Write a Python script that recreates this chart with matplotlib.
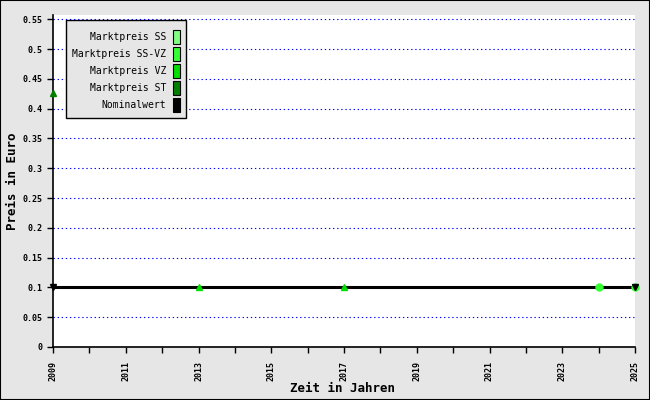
import matplotlib
matplotlib.use("Agg")
import matplotlib.pyplot as plt
from matplotlib.patches import Rectangle

# data
series_names = ["Marktpreis SS", "Marktpreis SS-VZ", "Marktpreis VZ", "Marktpreis ST", "Nominalwert"]
series_colors = ["#80ff80", "#33ff33", "#00dd00", "#008000", "#000000"]

st_years = [2009]
st_prices = [0.427]

vz_years = [2013, 2017]
vz_prices = [0.1, 0.1]

ssvz_years = [2024, 2025]
ssvz_prices = [0.1, 0.1]

nominal_years = [2009, 2025]
nominal_values = [0.1, 0.1]

y_ticks = [0, 0.05, 0.1, 0.15, 0.2, 0.25, 0.3, 0.35, 0.4, 0.45, 0.5, 0.55]
y_labels = ["0", "0.05", "0.1", "0.15", "0.2", "0.25", "0.3", "0.35", "0.4", "0.45", "0.5", "0.55"]
x_major = [2009, 2011, 2013, 2015, 2017, 2019, 2021, 2023, 2025]
x_minor = list(range(2009, 2026))

plt.rcParams['font.family'] = ['DejaVu Sans Mono']

W, H = 650, 400
def fx(px):
    return px / W
def fy(py):
    return 1 - py / H

fig = plt.figure(figsize=(6.5, 4), dpi=100, facecolor="#e6e6e6")
ax = fig.add_axes([53/650, 53/400, 582/650, 332/400])
ax.set_facecolor("white")

ax.set_xlim(2009, 2025)
ax.set_ylim(0, 0.5572)

# grid
for y in y_ticks[1:]:
    ax.axhline(y, color="blue", lw=0.8, ls=(0, (1.2, 2.5)), zorder=1)

# nominal line
ax.plot(nominal_years, nominal_values, color="black", lw=2.2, zorder=3)
ax.plot(ssvz_years, ssvz_prices, ls="none", marker="o", ms=5, color=series_colors[1],
        zorder=4, clip_on=False)
ax.plot(nominal_years, nominal_values, ls="none", marker="v", ms=5, color="black",
        zorder=5, clip_on=False)
ax.plot(vz_years, vz_prices, ls="none", marker="^", ms=5, color=series_colors[2],
        zorder=4, clip_on=False)
ax.plot(st_years, st_prices, ls="none", marker="^", ms=5, color=series_colors[3],
        zorder=4, clip_on=False)

ax.set_yticks(y_ticks)
ax.set_yticklabels(y_labels, fontsize=6, fontweight="bold")
ax.set_xticks(x_major)
ax.set_xticklabels([str(x) for x in x_major], rotation=90, fontsize=6, fontweight="bold")
ax.set_xticks(x_minor, minor=True)
ax.tick_params(axis="both", which="both", direction="out", length=4, width=1, color="black")
ax.tick_params(axis="x", pad=6)

for s in ["top", "right"]:
    ax.spines[s].set_visible(False)
for s in ["left", "bottom"]:
    ax.spines[s].set_linewidth(1.2)

# axis titles at fixed spots
fig.text(fx(13), fy(181), "Preis in Euro", rotation=90, ha="center", va="center",
         fontsize=9, fontweight="bold")
fig.text(fx(343), fy(388), "Zeit in Jahren", ha="center", va="center",
         fontsize=9, fontweight="bold")

# legend box drawn by hand (right aligned labels, swatches on the right)
fig.patches.append(Rectangle((fx(66), fy(118)), fx(186) - fx(66), fy(20) - fy(118),
                             transform=fig.transFigure, facecolor="#e6e6e6",
                             edgecolor="black", lw=1, zorder=10))
row_y = [37, 54, 71, 88, 105]
for name, col, yy in zip(series_names, series_colors, row_y):
    fig.text(fx(166), fy(yy), name, ha="right", va="center", fontsize=7, zorder=11)
    fig.patches.append(Rectangle((fx(173), fy(yy + 7)), fx(180) - fx(173), fy(yy - 7) - fy(yy + 7),
                                 transform=fig.transFigure, facecolor=col,
                                 edgecolor="black", lw=0.8, zorder=11))

# outer frame
fig.patches.append(Rectangle((0, 0), 1, 1, transform=fig.transFigure, fill=False,
                             edgecolor="black", lw=1.5, zorder=12))

fig.savefig("out.png", dpi=100, facecolor=fig.get_facecolor())
